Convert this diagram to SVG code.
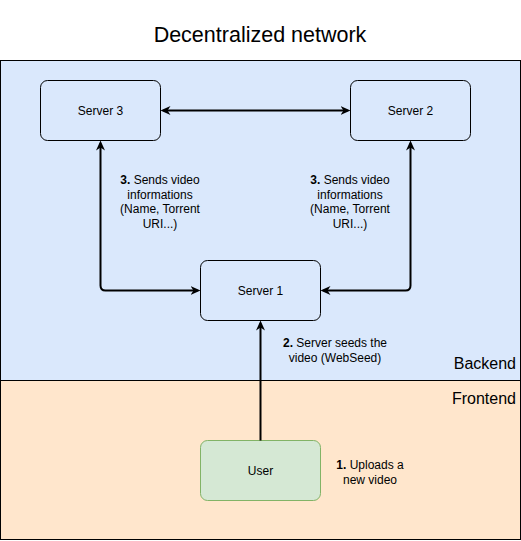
<svg xmlns="http://www.w3.org/2000/svg" width="521" height="541" viewBox="0 0 521 541">
<style>
text{font-family:"Liberation Sans",Arial,sans-serif;fill:#000}
.node{fill:none;stroke:#000;stroke-width:1}
.lbl{font-size:12px;text-anchor:middle}
.edge{fill:none;stroke:#000;stroke-width:2}
.zone{font-size:16px;text-anchor:end}
</style>
<defs>
<marker id="arr" viewBox="0 0 10 10" refX="7" refY="5" markerWidth="10" markerHeight="10" markerUnits="userSpaceOnUse" orient="auto-start-reverse">
<path d="M0,0.5 L10,5 L0,9.5 L3,5 z" fill="#000"/>
</marker>
</defs>
<rect width="521" height="541" fill="#fff"/>
<text x="260" y="41.5" font-size="21.5" text-anchor="middle">Decentralized network</text>
<g id="backend">
<rect x="0.5" y="60.5" width="520" height="320" fill="#dae8fc" stroke="#000"/>
<text class="zone" x="516" y="369">Backend</text>
</g>
<g id="frontend">
<rect x="0.5" y="380.5" width="520" height="159" fill="#ffe6cc" stroke="#000"/>
<text class="zone" x="516" y="404">Frontend</text>
</g>
<g id="server3">
<rect class="node" x="40.5" y="80.5" width="120" height="60" rx="7"/>
<text class="lbl" x="100.5" y="114.5">Server 3</text>
</g>
<g id="server2">
<rect class="node" x="350.5" y="80.5" width="120" height="60" rx="7"/>
<text class="lbl" x="410.5" y="114.5">Server 2</text>
</g>
<g id="server1">
<rect class="node" x="200.5" y="260.5" width="120" height="60" rx="7"/>
<text class="lbl" x="260.5" y="294.5">Server 1</text>
</g>
<g id="user">
<rect x="200.5" y="440.5" width="120" height="60" rx="7" fill="#d5e8d4" stroke="#82b366"/>
<text class="lbl" x="260.5" y="474.5">User</text>
</g>
<g id="connectors">
<path class="edge" d="M163.5,110.5 L347.5,110.5" marker-start="url(#arr)" marker-end="url(#arr)"/>
<path class="edge" d="M100.5,143.5 L100.5,285.5 Q100.5,290.5 105.5,290.5 L197.5,290.5" marker-start="url(#arr)" marker-end="url(#arr)"/>
<path class="edge" d="M410.5,143.5 L410.5,285.5 Q410.5,290.5 405.5,290.5 L323.5,290.5" marker-start="url(#arr)" marker-end="url(#arr)"/>
<path class="edge" d="M260.5,440.5 L260.5,323.5" marker-end="url(#arr)"/>
</g>
<g id="labels">
<text class="lbl" x="160" y="184"><tspan font-weight="bold">3.</tspan> Sends video</text>
<text class="lbl" x="160" y="198.5">informations</text>
<text class="lbl" x="160" y="213">(Name, Torrent</text>
<text class="lbl" x="160" y="227.5">URI...)</text>
<text class="lbl" x="350" y="184"><tspan font-weight="bold">3.</tspan> Sends video</text>
<text class="lbl" x="350" y="198.5">informations</text>
<text class="lbl" x="350" y="213">(Name, Torrent</text>
<text class="lbl" x="350" y="227.5">URI...)</text>
<text class="lbl" x="335" y="347"><tspan font-weight="bold">2.</tspan> Server seeds the</text>
<text class="lbl" x="335" y="361.5">video (WebSeed)</text>
<text class="lbl" x="370" y="469"><tspan font-weight="bold">1.</tspan> Uploads a</text>
<text class="lbl" x="370" y="483.5">new video</text>
</g>
</svg>
